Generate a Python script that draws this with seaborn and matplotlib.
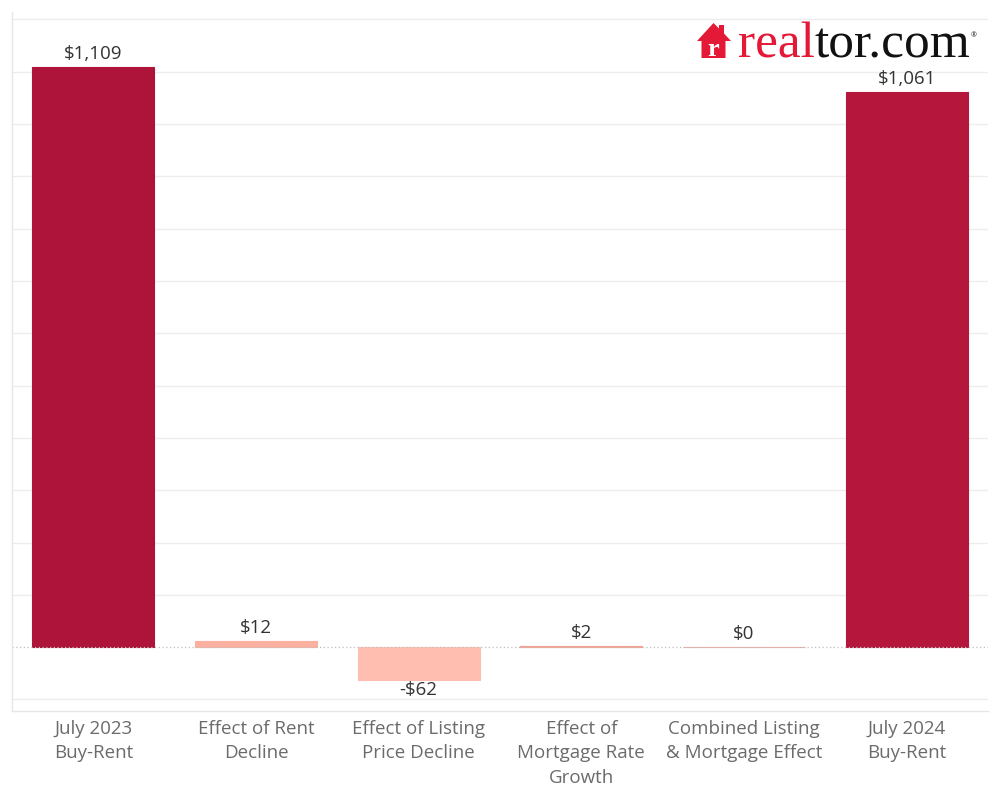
import matplotlib
matplotlib.use("Agg")
import matplotlib.pyplot as plt
import seaborn as sns
import pandas as pd
from matplotlib.patches import Polygon

categories = ["July 2023\nBuy-Rent", "Effect of Rent\nDecline", "Effect of Listing\nPrice Decline",
              "Effect of\nMortgage Rate\nGrowth", "Combined Listing\n& Mortgage Effect", "July 2024\nBuy-Rent"]
values = [1109, 12, -62, 2, 0, 1061]
value_labels = ["$1,109", "$12", "-$62", "$2", "$0", "$1,061"]
colors = ["#AE1339", "#FCB09F", "#FFBEB0", "#F7A291", "#F3AAA2", "#B4163C"]

sns.set_theme(style="white")
plt.rcParams['font.family'] = ['Open Sans', 'DejaVu Sans']

fig = plt.figure(figsize=(10, 8), dpi=100)
ax = fig.add_axes([0.012, 1 - 711 / 800, 0.976, 699 / 800])

df = pd.DataFrame({"cat": categories, "val": values})
sns.barplot(data=df, x="cat", y="val", hue="cat", palette=colors, legend=False,
            width=0.75, saturation=1, ax=ax)
for p in ax.patches:
    p.set_edgecolor(p.get_facecolor())
    p.set_linewidth(0.8)

ax.set_xlim(-0.5, 5.5)
ax.set_ylim(-122, 1214)
ax.set_yticks([t for t in range(-100, 1300, 100) if t != 0])
ax.yaxis.grid(True, color="#EDEDED", linewidth=1)
ax.set_axisbelow(True)
ax.tick_params(axis="y", length=0, labelleft=False)
ax.axhline(0, color="#BDBDBD", linestyle=(0, (1, 2)), linewidth=0.9, zorder=1)

ax.set_xlabel("")
ax.set_ylabel("")
ax.tick_params(axis="x", which="major", length=0, pad=6.5, labelsize=13.5, labelcolor="#6B6B6B")
for lab in ax.get_xticklabels():
    lab.set_linespacing(1.45)
ax.set_xticks([i + 0.5 for i in range(6)], minor=True)
ax.tick_params(axis="x", which="minor", length=4, width=1, color="#E6E6E6")
for s in ["top", "right"]:
    ax.spines[s].set_visible(False)
for s in ["left", "bottom"]:
    ax.spines[s].set_color("#E6E6E6")
    ax.spines[s].set_linewidth(1)

for i, (v, lbl) in enumerate(zip(values, value_labels)):
    if v >= 0:
        ax.annotate(lbl, (i, v), xytext=(0, 3), textcoords="offset points",
                    ha="center", va="bottom", fontsize=13.5, color="#333333")
    else:
        ax.annotate(lbl, (i, v), xytext=(0, -1), textcoords="offset points",
                    ha="center", va="top", fontsize=13.5, color="#333333")

# realtor.com logo
def fp(x, y):
    return (x / 1000, 1 - y / 800)

house = [(697, 41), (713.5, 23), (719, 28.5), (719, 25), (724, 25), (724, 33.5), (731, 41),
         (725.5, 41), (725.5, 58), (701.5, 58), (701.5, 41)]
fig.patches.append(Polygon([fp(x, y) for x, y in house], closed=True, facecolor="#E31937",
                           edgecolor="none", transform=fig.transFigure))
fig.text(*fp(713.5, 50), "r", color="white", fontfamily="Liberation Serif", fontweight="bold",
         fontsize=19, ha="center", va="center")
t1 = fig.text(*fp(738, 58), "real", color="#E31937", fontfamily="Liberation Serif",
              fontsize=37, ha="left", va="baseline")
t2 = fig.text(0, 0, "tor.com", color="#111111", fontfamily="Liberation Serif", fontsize=37)
fig.canvas.draw()
bb = t1.get_window_extent()
t2.set_position((bb.x1 / 1000, 1 - 58 / 800))
t2.set_va("baseline")
fig.canvas.draw()
bb2 = t2.get_window_extent()
fig.text(bb2.x1 / 1000, 1 - 36 / 800, "®", color="#111111", fontsize=5, ha="left", va="center")

fig.savefig("out.png", dpi=100, facecolor="white")
